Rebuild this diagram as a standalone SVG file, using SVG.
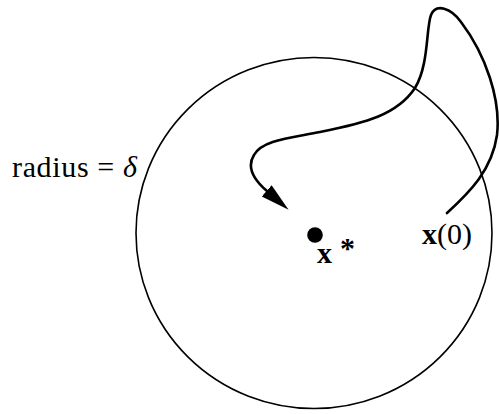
<svg xmlns="http://www.w3.org/2000/svg" width="499" height="414" viewBox="0 0 499 414">
<style>
.t{font-family:"Liberation Serif","Times New Roman",serif;font-size:30px;fill:#000}
.b{font-weight:bold}
.i{font-style:italic}
.ring{fill:none;stroke:#000;stroke-width:1.6}
.traj{fill:none;stroke:#000;stroke-width:2.6;stroke-linecap:round}
</style>
<defs>
<marker id="ah" markerUnits="userSpaceOnUse" markerWidth="32" markerHeight="18" viewBox="0 -9 32 18" refX="0" refY="0" orient="auto">
<path d="M0,-7.5 L29,0 L0,7.5 z" fill="#000"/>
</marker>
</defs>
<rect width="499" height="414" fill="#fff"/>
<g id="region">
<ellipse class="ring" cx="314" cy="233" rx="178" ry="175.5"/>
</g>
<g id="equilibrium">
<circle cx="315" cy="235" r="7.8" fill="#000"/>
<text class="t b" x="317" y="263" font-size="29">x</text>
<text class="t b" x="340" y="258" font-size="21">*</text>
</g>
<g id="start">
<text class="t" x="422" y="244"><tspan class="b">x</tspan>(0)</text>
</g>
<g id="label">
<text class="t" x="12" y="177" textLength="125" lengthAdjust="spacing">radius = <tspan class="i">δ</tspan></text>
</g>
<g id="connectors">
<path class="traj" marker-end="url(#ah)" d="M447,213 C470,192 492,170 497,135 C501,100 486,55 461,22 C451,8 436,3 431,15 C426,28 429,65 415,88 C397,115 365,123 320,132 C290,138 262,140 254,155 C247,166 252,178 266.7,190.8"/>
</g>
</svg>
